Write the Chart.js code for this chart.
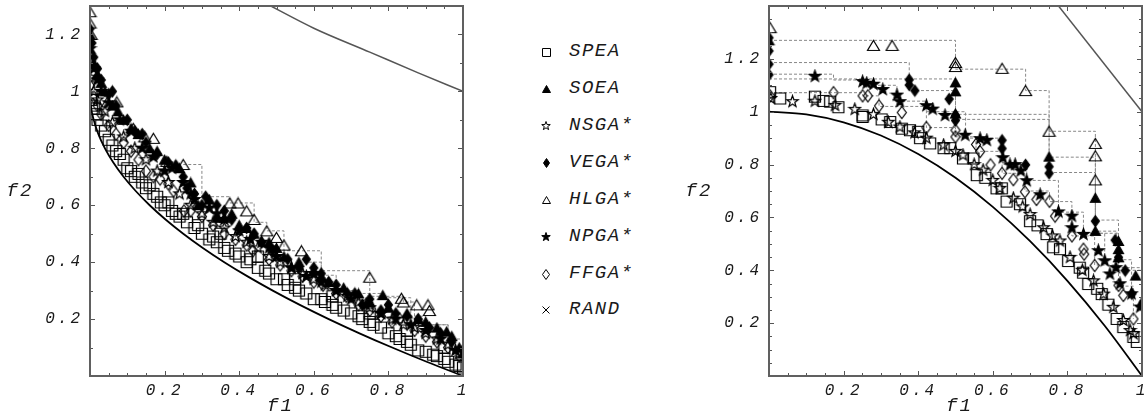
<!DOCTYPE html>
<html>
<head>
<meta charset="utf-8">
<script src="https://cdn.jsdelivr.net/npm/chart.js@4.4.1/dist/chart.umd.min.js"></script>
<style>
  html, body { margin: 0; padding: 0; background: #fff; overflow: hidden; }
  body { width: 1146px; height: 419px; position: relative; }
  #leftChart { position: absolute; left: 0; top: 0; }
  #rightChart { position: absolute; left: 666px; top: 0; }
  .row { position: absolute; height: 24px; line-height: 24px; font: italic 19px "Liberation Mono", monospace; letter-spacing: 1.5px; color: #1a1a1a; white-space: nowrap; }
  .row canvas { position: absolute; }
</style>
</head>
<body>
<canvas id="leftChart" width="480" height="419"></canvas>
<canvas id="rightChart" width="490" height="419"></canvas>
<div id="legend"></div>
<script>
  // -----------------------------
  // データ（図から目視で読み取った値）
  // -----------------------------
  const algoNames = ["SPEA", "SOEA", "NSGA*", "VEGA*", "HLGA*", "NPGA*", "FFGA*", "RAND"];

  const xTickValues = [0.2, 0.4, 0.6, 0.8, 1];
  const xTickLabels = ["0.2", "0.4", "0.6", "0.8", "1"];
  const yTickValues = [0.2, 0.4, 0.6, 0.8, 1, 1.2];
  const yTickLabels = ["0.2", "0.4", "0.6", "0.8", "1", "1.2"];
  const xTitle = "f1";
  const yTitle = "f2";

  // 左図 (真のパレートフロントと上側の境界線)
  const frontLeft = [[0,1],[0.0025,0.95],[0.01,0.9],[0.0225,0.85],[0.04,0.8],[0.0625,0.75],[0.09,0.7],[0.1225,0.65],[0.16,0.6],[0.2025,0.55],[0.25,0.5],[0.3025,0.45],[0.36,0.4],[0.4225,0.35],[0.49,0.3],[0.5625,0.25],[0.64,0.2],[0.7225,0.15],[0.81,0.1],[0.9025,0.05],[1,0]];
  const upperLeft = [[0.47,1.31],[0.6,1.222],[0.75,1.138],[0.88,1.065],[1,1.0]];

  const speaLeft = [[0.003,0.97],[0.005,0.95],[0.01,0.94],[0.015,0.92],[0.02,0.9],[0.03,0.88],[0.04,0.86],[0.05,0.83],[0.06,0.81],[0.07,0.79],[0.08,0.78],[0.09,0.76],[0.1,0.73],[0.11,0.72],[0.12,0.7],[0.13,0.71],[0.14,0.68],[0.15,0.66],[0.16,0.67],[0.17,0.64],[0.18,0.63],[0.19,0.61],[0.2,0.6],[0.21,0.61],[0.22,0.58],[0.23,0.57],[0.24,0.56],[0.25,0.57],[0.26,0.54],[0.28,0.52],[0.29,0.53],[0.3,0.5],[0.32,0.48],[0.33,0.49],[0.34,0.47],[0.35,0.5],[0.36,0.45],[0.37,0.44],[0.39,0.43],[0.4,0.42],[0.42,0.4],[0.43,0.41],[0.45,0.38],[0.45,0.42],[0.47,0.37],[0.48,0.36],[0.5,0.34],[0.52,0.34],[0.53,0.32],[0.55,0.31],[0.55,0.34],[0.56,0.3],[0.58,0.29],[0.6,0.27],[0.62,0.27],[0.63,0.26],[0.65,0.25],[0.65,0.28],[0.66,0.24],[0.68,0.23],[0.7,0.22],[0.72,0.21],[0.73,0.2],[0.75,0.19],[0.75,0.22],[0.76,0.18],[0.78,0.17],[0.8,0.15],[0.82,0.14],[0.83,0.13],[0.85,0.12],[0.85,0.16],[0.86,0.11],[0.88,0.09],[0.9,0.085],[0.92,0.075],[0.93,0.07],[0.95,0.06],[0.95,0.1],[0.96,0.05],[0.98,0.04],[0.99,0.035],[1.0,0.03]];
  const soeaLeft = [[0.0,1.2],[0.0,1.15],[0.01,1.1],[0.02,1.06],[0.03,1.03],[0.04,1.0],[0.06,0.95],[0.075,0.93],[0.09,0.9],[0.11,0.87],[0.13,0.85],[0.16,0.8],[0.18,0.79],[0.2,0.76],[0.24,0.73],[0.27,0.68],[0.29,0.6],[0.32,0.62],[0.34,0.556],[0.36,0.556],[0.38,0.57],[0.4,0.53],[0.42,0.52],[0.44,0.5],[0.48,0.47],[0.5,0.45],[0.52,0.42],[0.56,0.4],[0.6,0.37],[0.62,0.35],[0.64,0.33],[0.68,0.31],[0.72,0.29],[0.75,0.26],[0.785,0.284],[0.8,0.24],[0.85,0.22],[0.88,0.2],[0.9,0.19],[0.93,0.17],[0.956,0.156],[0.97,0.14],[0.99,0.1],[1.0,0.08]];
  const nsgaLeft = [[0.0,1.05],[0.01,1.0],[0.02,0.97],[0.04,0.93],[0.06,0.89],[0.09,0.84],[0.12,0.8],[0.15,0.76],[0.18,0.72],[0.21,0.68],[0.24,0.64],[0.27,0.6],[0.3,0.57],[0.33,0.54],[0.36,0.52],[0.39,0.49],[0.42,0.47],[0.45,0.45],[0.48,0.42],[0.51,0.4],[0.54,0.38],[0.57,0.36],[0.6,0.34],[0.63,0.32],[0.66,0.3],[0.69,0.28],[0.72,0.26],[0.75,0.24],[0.78,0.22],[0.81,0.2],[0.84,0.18],[0.87,0.17],[0.9,0.15],[0.93,0.13],[0.96,0.11],[0.99,0.08]];
  const vegaLeft = [[0.0,1.22],[0.005,1.17],[0.01,1.12],[0.02,1.08],[0.03,1.04],[0.05,0.99],[0.06,1.0],[0.07,0.95],[0.1,0.9],[0.12,0.86],[0.14,0.85],[0.15,0.82],[0.18,0.78],[0.21,0.75],[0.23,0.74],[0.25,0.7],[0.26,0.66],[0.28,0.64],[0.3,0.6],[0.31,0.63],[0.34,0.6],[0.36,0.58],[0.38,0.55],[0.42,0.52],[0.44,0.5],[0.46,0.47],[0.49,0.44],[0.53,0.41],[0.56,0.38],[0.58,0.41],[0.6,0.38],[0.62,0.36],[0.64,0.33],[0.66,0.32],[0.69,0.29],[0.71,0.29],[0.73,0.25],[0.75,0.27],[0.78,0.23],[0.8,0.25],[0.82,0.22],[0.85,0.21],[0.88,0.2],[0.91,0.17],[0.94,0.15],[0.97,0.12],[1.0,0.09]];
  const hlgaLeft = [[0,1.28],[0,1.24],[0.003,1.2],[0.047,0.963],[0.072,0.963],[0.116,0.87],[0.147,0.84],[0.17,0.835],[0.206,0.754],[0.25,0.743],[0.375,0.608],[0.397,0.608],[0.42,0.58],[0.44,0.55],[0.474,0.51],[0.5,0.487],[0.52,0.46],[0.567,0.44],[0.75,0.347],[0.835,0.273],[0.84,0.26],[0.876,0.25],[0.906,0.25],[0.91,0.23]];
  const npgaLeft = [[0.0,1.15],[0.01,1.08],[0.02,1.04],[0.03,1.0],[0.05,0.96],[0.08,0.9],[0.11,0.86],[0.14,0.8],[0.17,0.77],[0.2,0.72],[0.22,0.73],[0.25,0.68],[0.27,0.64],[0.28,0.62],[0.32,0.59],[0.34,0.57],[0.36,0.55],[0.4,0.51],[0.43,0.48],[0.46,0.47],[0.48,0.45],[0.5,0.42],[0.54,0.38],[0.58,0.35],[0.6,0.36],[0.62,0.33],[0.66,0.3],[0.7,0.27],[0.74,0.25],[0.78,0.22],[0.82,0.2],[0.86,0.18],[0.9,0.16],[0.94,0.13],[0.98,0.09]];
  const ffgaLeft = [[0.0,1.02],[0.01,0.98],[0.02,0.95],[0.03,0.92],[0.05,0.88],[0.07,0.85],[0.09,0.82],[0.11,0.79],[0.13,0.76],[0.15,0.72],[0.17,0.7],[0.188,0.692],[0.21,0.675],[0.224,0.65],[0.252,0.58],[0.27,0.58],[0.3,0.56],[0.33,0.53],[0.36,0.5],[0.39,0.48],[0.42,0.46],[0.437,0.44],[0.48,0.41],[0.51,0.39],[0.54,0.37],[0.57,0.35],[0.6,0.33],[0.625,0.319],[0.66,0.29],[0.687,0.28],[0.72,0.25],[0.75,0.23],[0.78,0.21],[0.81,0.19],[0.83,0.2],[0.87,0.16],[0.9,0.14],[0.93,0.12],[0.96,0.1],[0.99,0.07]];
  const randLeft = []; // 表示範囲外

  const hlgaStairLeft = [[0.25,0.743],[0.3,0.63],[0.375,0.608],[0.44,0.54],[0.474,0.51],[0.52,0.44],[0.62,0.37],[0.75,0.347],[0.75,0.28],[0.84,0.26],[0.87,0.18],[0.96,0.15]];
  const vegaStairLeft = [[0.56,0.4],[0.62,0.354],[0.66,0.3],[0.72,0.29],[0.78,0.275],[0.86,0.21],[0.9,0.18],[0.96,0.13],[1.0,0.09]];

  // 右図
  const frontRight = [[0,1],[0.1,0.99],[0.2,0.96],[0.3,0.91],[0.4,0.84],[0.5,0.75],[0.6,0.64],[0.7,0.51],[0.8,0.36],[0.9,0.19],[1,0]];
  const upperRight = [[0.765,1.42],[1.0,1.0]];

  const speaRight = [[0.003,1.074],[0.03,1.05],[0.123,1.057],[0.146,1.041],[0.164,1.038],[0.186,1.017],[0.251,0.986],[0.251,0.98],[0.302,0.971],[0.325,0.961],[0.356,0.936],[0.378,0.93],[0.4,0.924],[0.405,0.9],[0.432,0.88],[0.468,0.862],[0.486,0.862],[0.52,0.823],[0.548,0.823],[0.557,0.76],[0.58,0.75],[0.61,0.71],[0.624,0.71],[0.637,0.66],[0.673,0.65],[0.7,0.586],[0.72,0.57],[0.744,0.537],[0.762,0.487],[0.78,0.48],[0.802,0.435],[0.833,0.41],[0.842,0.391],[0.856,0.348],[0.88,0.33],[0.892,0.31],[0.91,0.27],[0.932,0.216],[0.95,0.185],[0.977,0.148],[0.986,0.129]];
  const soeaRight = [[0,1.27],[0.5,1.111],[0.5,1.077],[0.5,0.993],[0.751,0.83],[0.875,0.674],[0.875,0.549],[0.937,0.511],[0.937,0.48],[0.937,0.449],[0.983,0.38],[1.0,0.28]];
  const nsgaRight = [[0.005,1.05],[0.063,1.038],[0.123,1.04],[0.177,1.024],[0.23,1.009],[0.28,0.99],[0.32,0.96],[0.351,0.942],[0.39,0.92],[0.422,0.9],[0.468,0.874],[0.5,0.85],[0.52,0.836],[0.55,0.8],[0.574,0.779],[0.6,0.74],[0.619,0.71],[0.655,0.673],[0.68,0.64],[0.7,0.611],[0.736,0.561],[0.76,0.53],[0.78,0.511],[0.807,0.449],[0.84,0.4],[0.87,0.36],[0.897,0.31],[0.923,0.26],[0.95,0.21],[0.968,0.172],[0.977,0.16]];
  const vegaRight = [[0,1.28],[0,1.23],[0,1.18],[0,1.14],[0.376,1.121],[0.376,1.101],[0.391,1.08],[0.483,1.048],[0.5,0.986],[0.5,0.967],[0.625,0.892],[0.625,0.861],[0.688,0.799],[0.751,0.792],[0.751,0.767],[0.875,0.586],[0.928,0.514],[0.937,0.449],[0.955,0.399],[0.973,0.311]];
  const hlgaRight = [[0.003,1.318],[0.28,1.251],[0.33,1.251],[0.5,1.186],[0.5,1.171],[0.625,1.164],[0.688,1.08],[0.751,0.926],[0.875,0.88],[0.875,0.833],[0.875,0.742]];
  const npgaRight = [[0.123,1.134],[0.251,1.114],[0.262,1.108],[0.28,1.104],[0.305,1.084],[0.343,1.063],[0.351,1.038],[0.422,1.023],[0.439,1.01],[0.472,0.986],[0.526,0.911],[0.566,0.898],[0.584,0.892],[0.627,0.826],[0.646,0.799],[0.66,0.8],[0.675,0.776],[0.691,0.739],[0.727,0.686],[0.776,0.621],[0.812,0.605],[0.812,0.561],[0.843,0.536],[0.883,0.474],[0.9,0.436],[0.914,0.386],[0.93,0.41],[0.941,0.349],[0.972,0.311],[0.995,0.261]];
  const ffgaRight = [[0.003,1.06],[0.173,1.072],[0.251,1.06],[0.265,1.06],[0.295,1.022],[0.356,0.997],[0.422,0.94],[0.5,0.93],[0.5,0.905],[0.555,0.876],[0.566,0.849],[0.594,0.799],[0.625,0.767],[0.655,0.743],[0.686,0.697],[0.717,0.668],[0.752,0.661],[0.767,0.605],[0.812,0.53],[0.843,0.48],[0.845,0.461],[0.873,0.418],[0.937,0.343],[0.95,0.305],[0.977,0.216]];
  const randRight = []; // 表示範囲外

  const hlgaStairRight = [[0,1.27],[0.5,1.161],[0.688,1.08],[0.751,0.926],[0.875,0.548],[0.932,0.41],[1.0,0.41]];
  const vegaStairRight = [[0,1.186],[0.376,1.08],[0.5,0.971],[0.751,0.77],[0.875,0.59],[0.937,0.45]];
  const soeaStairRight = [[0,1.124],[0.5,0.99],[0.751,0.828],[0.875,0.54],[0.937,0.4],[1.0,0.28]];
  const npgaStairRight = [[0,1.142],[0.173,1.12],[0.251,1.1],[0.343,1.04],[0.422,1.0],[0.527,0.9],[0.627,0.8],[0.691,0.74],[0.776,0.62],[0.843,0.54],[0.9,0.44],[0.972,0.31]];
  const ffgaStairRight = [[0,1.072],[0.251,1.06],[0.295,1.02],[0.422,0.94],[0.5,0.905],[0.555,0.85],[0.625,0.767],[0.686,0.7],[0.752,0.66],[0.812,0.53],[0.873,0.42],[0.937,0.34],[0.977,0.216]];

  // -----------------------------
  // マーカー画像
  // -----------------------------
  function makeMarker(kind, w, h, lw) {
    const c = document.createElement("canvas");
    c.width = Math.ceil(w) + 3;
    c.height = Math.ceil(h) + 3;
    const g = c.getContext("2d");
    g.translate(c.width / 2, c.height / 2);
    g.lineWidth = lw;
    g.lineJoin = "miter";
    g.strokeStyle = "#000";
    g.fillStyle = "#000";
    g.beginPath();
    if (kind === "square") {
      g.rect(-w / 2, -h / 2, w, h);
    } else if (kind === "triFill" || kind === "triOpen") {
      g.moveTo(0, -h / 2); g.lineTo(w / 2, h / 2); g.lineTo(-w / 2, h / 2); g.closePath();
    } else if (kind === "diamondFill" || kind === "diamondOpen") {
      g.moveTo(0, -h / 2); g.lineTo(w / 2, 0); g.lineTo(0, h / 2); g.lineTo(-w / 2, 0); g.closePath();
    } else if (kind === "starFill" || kind === "starOpen") {
      for (let i = 0; i < 10; i++) {
        const r = i % 2 ? w * 0.2 : w / 2;
        const a = -Math.PI / 2 + i * Math.PI / 5;
        if (i === 0) g.moveTo(r * Math.cos(a), r * Math.sin(a));
        else g.lineTo(r * Math.cos(a), r * Math.sin(a));
      }
      g.closePath();
    } else if (kind === "cross") {
      g.moveTo(-w / 2, -h / 2); g.lineTo(w / 2, h / 2);
      g.moveTo(w / 2, -h / 2); g.lineTo(-w / 2, h / 2);
    }
    if (kind.endsWith("Fill")) g.fill();
    g.stroke();
    return c;
  }

  const markerKinds = ["square", "triFill", "starOpen", "diamondFill", "triOpen", "starFill", "diamondOpen", "cross"];
  const plotSizes = [[11, 11], [10, 9], [12, 12], [8, 11], [12, 10], [12, 12], [9, 12], [8, 8]];
  const legendSizes = [[8, 8], [8, 7], [9, 9], [6, 9], [8, 7], [9, 9], [7, 10], [7, 7]];
  const plotMarkers = markerKinds.map((k, i) => makeMarker(k, plotSizes[i][0], plotSizes[i][1], 1.2));

  // -----------------------------
  // 凡例 (HTML)
  // -----------------------------
  const legendRowY = [52, 89, 126, 163, 200, 237, 274, 310];
  const legendEl = document.getElementById("legend");
  algoNames.forEach((name, i) => {
    const row = document.createElement("div");
    row.className = "row";
    row.style.left = "569px";
    row.style.top = (legendRowY[i] - 12) + "px";
    const m = makeMarker(markerKinds[i], legendSizes[i][0], legendSizes[i][1], 1);
    m.style.left = (546 - 569 - m.width / 2) + "px";
    m.style.top = (12 - m.height / 2) + "px";
    row.appendChild(m);
    row.appendChild(document.createTextNode(name));
    legendEl.appendChild(row);
  });

  // -----------------------------
  // 枠・目盛り・軸タイトル
  // -----------------------------
  const frameTicks = {
    id: "frameTicks",
    beforeDraw(chart) {
      chart.ctx.letterSpacing = "3px";
    },
    afterDraw(chart) {
      const { ctx, chartArea: a, scales } = chart;
      const xs = scales.x, ys = scales.y;
      const yStep = chart.options.yMinor;
      ctx.save();
      ctx.letterSpacing = "0px";
      ctx.strokeStyle = "#555";
      ctx.lineWidth = 1;
      ctx.beginPath();
      for (let i = 0; i <= 20; i++) {
        const px = Math.round(xs.getPixelForValue(i * 0.05)) + 0.5;
        const len = i % 4 === 0 ? 5 : 3;
        ctx.moveTo(px, a.bottom); ctx.lineTo(px, a.bottom - len);
        ctx.moveTo(px, a.top); ctx.lineTo(px, a.top + len);
      }
      const n = Math.round(ys.max / yStep);
      for (let i = 0; i <= n; i++) {
        const v = i * yStep;
        const py = Math.round(ys.getPixelForValue(v)) + 0.5;
        const major = Math.abs(v * 5 - Math.round(v * 5)) < 1e-6;
        const len = major ? 5 : 3;
        ctx.moveTo(a.left, py); ctx.lineTo(a.left + len, py);
        ctx.moveTo(a.right, py); ctx.lineTo(a.right - len, py);
      }
      ctx.stroke();

      ctx.strokeStyle = "#606060";
      ctx.lineWidth = 2;
      ctx.strokeRect(a.left, a.top, a.right - a.left, a.bottom - a.top);

      ctx.fillStyle = "#1a1a1a";
      ctx.font = 'italic 19px "Liberation Mono"';
      ctx.letterSpacing = "2px";
      ctx.textAlign = "center";
      ctx.textBaseline = "middle";
      ctx.fillText(xTitle, (a.left + a.right) / 2 + 4, a.bottom + 30);
      ctx.fillText(yTitle, a.left - 70, (a.top + a.bottom) / 2);
      ctx.restore();
    }
  };

  // -----------------------------
  // データセット生成
  // -----------------------------
  const pts = arr => arr.map(([x, y]) => ({ x, y }));

  function markerSet(i, data) {
    return {
      label: algoNames[i],
      data: pts(data),
      pointStyle: plotMarkers[i],
      pointRadius: 5,
      showLine: false,
      clip: 0
    };
  }

  function lineSet(data, color, width, extra) {
    return Object.assign({
      data: pts(data),
      showLine: true,
      pointRadius: 0,
      borderColor: color,
      borderWidth: width,
      fill: false,
      clip: 0
    }, extra || {});
  }

  const stair = data => lineSet(data, "#888", 1, { stepped: "before", borderDash: [3, 2] });

  const tickFont = { family: "Liberation Mono", style: "italic", size: 16 };

  function makeChart(id, datasets, yMax, yWidth, padRight, yMinor) {
    return new Chart(document.getElementById(id), {
      type: "scatter",
      data: { datasets },
      options: {
        responsive: false,
        animation: false,
        events: [],
        yMinor: yMinor,
        layout: { padding: { top: 3, right: padRight, left: 0, bottom: 0 } },
        plugins: { legend: { display: false }, tooltip: { enabled: false } },
        scales: {
          x: {
            type: "linear", min: 0, max: 1,
            afterBuildTicks: s => { s.ticks = xTickValues.map(v => ({ value: v })); },
            afterFit: s => { s.height = 43; s.paddingLeft = 0; s.paddingRight = 0; },
            ticks: { callback: (v, i) => xTickLabels[i], autoSkip: false, maxRotation: 0, padding: 5, font: tickFont, color: "#1a1a1a" },
            grid: { display: false, drawTicks: false },
            border: { display: false }
          },
          y: {
            type: "linear", min: 0, max: yMax,
            afterBuildTicks: s => { s.ticks = yTickValues.map(v => ({ value: v })); },
            afterFit: s => { s.width = yWidth; s.paddingTop = 0; s.paddingBottom = 0; },
            ticks: { callback: (v, i) => yTickLabels[i], autoSkip: false, padding: 7, font: tickFont, color: "#1a1a1a" },
            grid: { display: false, drawTicks: false },
            border: { display: false }
          }
        }
      },
      plugins: [frameTicks]
    });
  }

  makeChart("leftChart", [
    markerSet(0, speaLeft),
    markerSet(1, soeaLeft),
    markerSet(2, nsgaLeft),
    markerSet(3, vegaLeft),
    markerSet(4, hlgaLeft),
    markerSet(5, npgaLeft),
    markerSet(6, ffgaLeft),
    markerSet(7, randLeft),
    stair(hlgaStairLeft),
    stair(vegaStairLeft),
    lineSet(frontLeft, "#000", 1.8, { cubicInterpolationMode: "monotone" }),
    lineSet(upperLeft, "#555", 1.5, { cubicInterpolationMode: "monotone" })
  ], 1.3, 90, 17, 0.1);

  makeChart("rightChart", [
    markerSet(0, speaRight),
    markerSet(1, soeaRight),
    markerSet(2, nsgaRight),
    markerSet(3, vegaRight),
    markerSet(4, hlgaRight),
    markerSet(5, npgaRight),
    markerSet(6, ffgaRight),
    markerSet(7, randRight),
    stair(hlgaStairRight),
    stair(vegaStairRight),
    stair(soeaStairRight),
    stair(npgaStairRight),
    stair(ffgaStairRight),
    lineSet(frontRight, "#000", 1.8, { cubicInterpolationMode: "monotone" }),
    lineSet(upperRight, "#555", 1.5)
  ], 1.4, 103, 14, 0.05);
</script>
</body>
</html>
